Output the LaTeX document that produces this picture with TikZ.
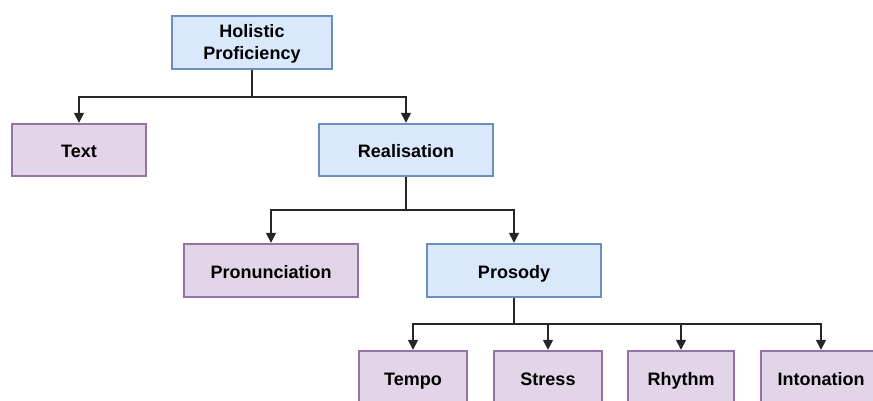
\documentclass[tikz,border=0pt]{standalone}
\usepackage{fontspec}
\setmainfont{Liberation Sans}
\usetikzlibrary{arrows.meta}
\definecolor{bluefill}{HTML}{DAE8FC}
\definecolor{bluedraw}{HTML}{6C8EBF}
\definecolor{purplefill}{HTML}{E1D5E7}
\definecolor{purpledraw}{HTML}{9673A6}
\tikzset{
  labelfont/.style={font=\fontsize{18}{21.5}\selectfont\bfseries, text=black},
  box/.style={rectangle, line width=2.4pt, inner sep=0pt, align=center, labelfont},
  onerow/.style={text height=15pt, text depth=0pt},
  bluebox/.style={box, fill=bluefill, draw=bluedraw},
  purplebox/.style={box, fill=purplefill, draw=purpledraw},
  link/.style={line width=1.5pt, draw=black!85},
  arrowlink/.style={link, -{Triangle[length=10pt, width=10pt]}}
}
\begin{document}
\begin{tikzpicture}[x=1pt, y=-1pt]
  \useasboundingbox (0,0) rectangle (873,401);
  \clip (0,0) rectangle (873,401);
  \fill[white] (0,0) rectangle (873,401);

  % top level: two-line caption set as a centred label, nudged down a little
  \node[bluebox, minimum width=160pt, minimum height=53pt,
        label={[name=hptext, labelfont, align=center, yshift=-1.5pt]center:Holistic\\Proficiency}]
        (hp) at (252,42.5) {};

  % second level
  \node[purplebox, onerow, minimum width=134pt, minimum height=52pt] (txt) at (79,150) {Text};
  \node[bluebox, onerow, minimum width=174pt, minimum height=52pt] (real) at (406,150) {Realisation};

  % third level
  \node[purplebox, onerow, minimum width=174pt, minimum height=53pt] (pron) at (271,270.5) {Pronunciation};
  \node[bluebox, onerow, minimum width=174pt, minimum height=53pt] (pros) at (514,270.5) {Prosody};

  % fourth level
  \node[purplebox, onerow, minimum width=108pt, minimum height=53pt] (tempo) at (413,377.5) {Tempo};
  \node[purplebox, onerow, minimum width=108pt, minimum height=53pt] (stress) at (548,377.5) {Stress};
  \node[purplebox, onerow, minimum width=106pt, minimum height=53pt] (rhythm) at (681,377.5) {Rhythm};
  \node[purplebox, onerow, minimum width=120pt, minimum height=53pt] (inton) at (821,377.5) {Intonation};

  % junction points of the orthogonal connectors
  \coordinate (j1) at (252,97);
  \coordinate (j2) at (406,210);
  \coordinate (j3) at (514,324);

  \draw[link] (hp.south) -- (j1);
  \draw[arrowlink] (j1) -| (txt.north);
  \draw[arrowlink] (j1) -| (real.north);

  \draw[link] (real.south) -- (j2);
  \draw[arrowlink] (j2) -| (pron.north);
  \draw[arrowlink] (j2) -| (pros.north);

  \draw[link] (pros.south) -- (j3);
  \draw[arrowlink] (j3) -| (tempo.north);
  \draw[arrowlink] (j3) -| (stress.north);
  \draw[arrowlink] (j3) -| (rhythm.north);
  \draw[arrowlink] (j3) -| (inton.north);
\end{tikzpicture}
\end{document}
